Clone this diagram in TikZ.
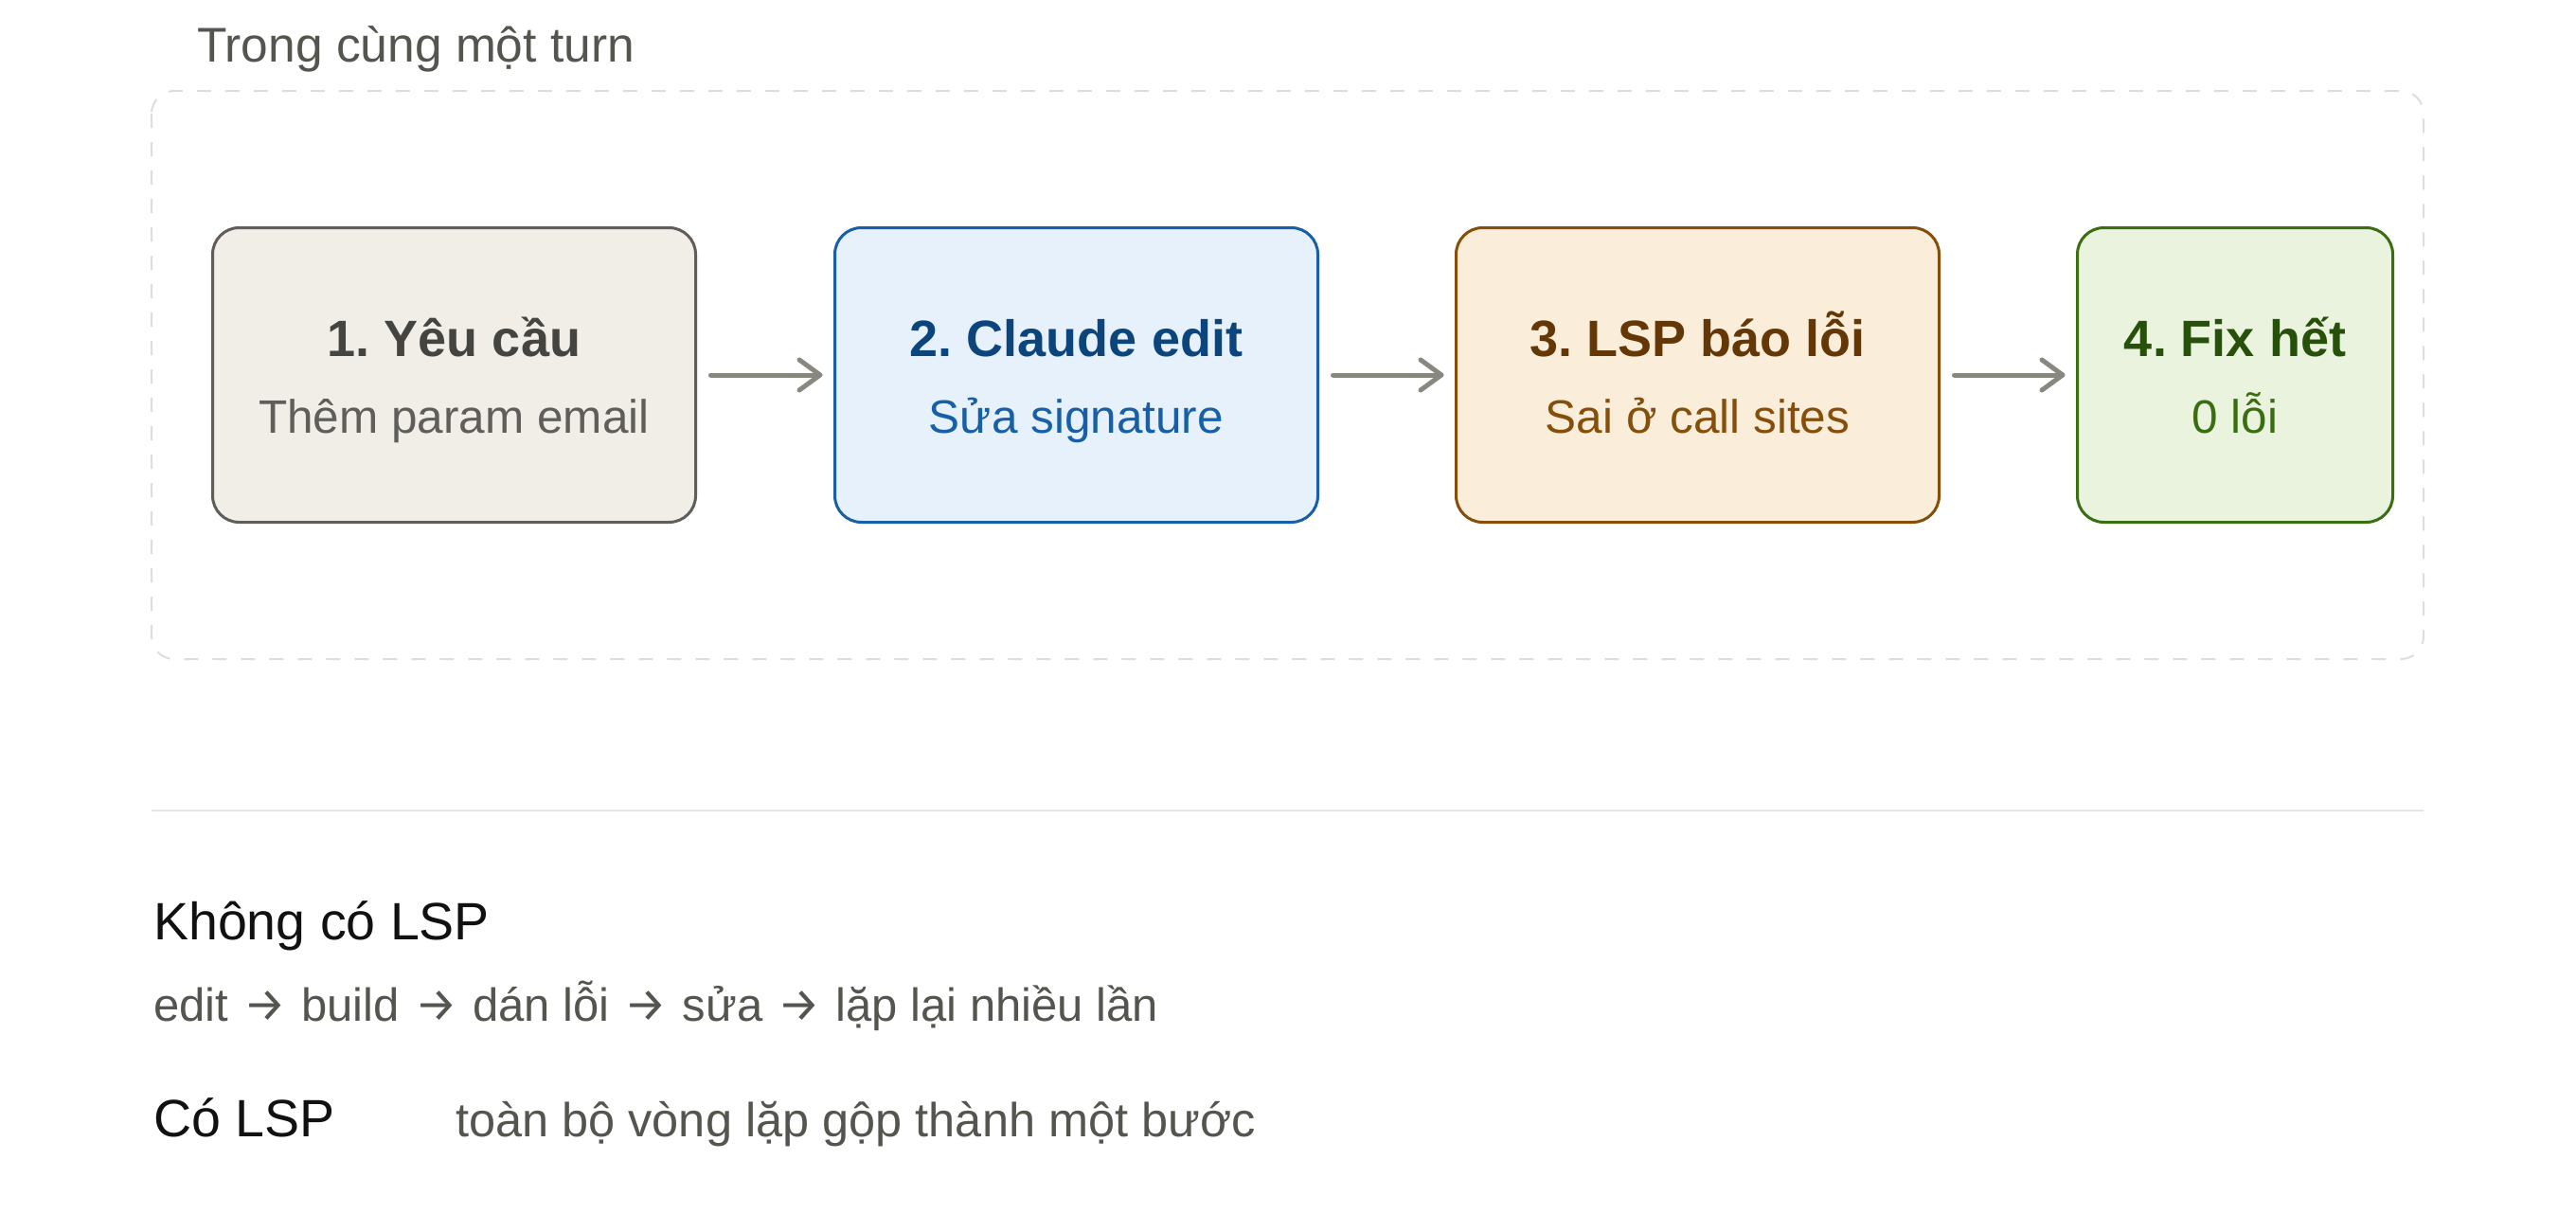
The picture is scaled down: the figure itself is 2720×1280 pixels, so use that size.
\documentclass[tikz,border=0pt]{standalone}
\usepackage{fontspec}
\setmainfont{Liberation Sans}
\newfontfamily\arrowfont{Fira Sans}
\usetikzlibrary{arrows.meta}
\definecolor{bgA}{HTML}{F1EEE8}\definecolor{lnA}{HTML}{5F5E5A}\definecolor{ttA}{HTML}{444441}\definecolor{sbA}{HTML}{5F5E5A}
\definecolor{bgB}{HTML}{E6F1FB}\definecolor{lnB}{HTML}{185FA5}\definecolor{ttB}{HTML}{0C447C}\definecolor{sbB}{HTML}{185FA5}
\definecolor{bgC}{HTML}{FAEEDA}\definecolor{lnC}{HTML}{854F0B}\definecolor{ttC}{HTML}{633806}\definecolor{sbC}{HTML}{854F0B}
\definecolor{bgD}{HTML}{EAF3DE}\definecolor{lnD}{HTML}{3B6D11}\definecolor{ttD}{HTML}{27500A}\definecolor{sbD}{HTML}{3B6D11}
\definecolor{arrowgray}{HTML}{888780}
\definecolor{dashgray}{HTML}{DDDDDA}
\definecolor{sepgray}{HTML}{E6E6E4}
\definecolor{bodygray}{HTML}{55554F}
\definecolor{headblack}{HTML}{111111}
\newcommand\txtarrow{\hspace{2.5pt}{\arrowfont\fontsize{50}{50}\selectfont →}\hspace{2.5pt}}
\frenchspacing
\begin{document}
\begin{tikzpicture}[x=1pt,y=-1pt,
  box/.style={draw, line width=3pt, rounded corners=28pt, minimum height=311pt, inner sep=0pt, outer sep=0pt},
  ttl/.style={anchor=base, inner sep=0pt, font=\fontsize{54}{60}\selectfont\bfseries\frenchspacing},
  sub/.style={anchor=base, inner sep=0pt, font=\fontsize{49.5}{56}\selectfont},
  flow/.style={draw=arrowgray, line width=5pt, line cap=round, -{Straight Barb[length=22pt,width=32pt,round]}},
  lbl/.style={anchor=base west, inner sep=0pt, text=bodygray, font=\fontsize{51.5}{58}\selectfont},
  head/.style={anchor=base west, inner sep=0pt, text=headblack, font=\fontsize{55.5}{62}\selectfont},
  body/.style={anchor=base west, inner sep=0pt, text=bodygray, font=\fontsize{49}{56}\selectfont},
  body2/.style={anchor=base west, inner sep=0pt, text=bodygray, font=\fontsize{50.5}{56}\selectfont},
]
\useasboundingbox[fill=white] (0,0) rectangle (2720,1280);

% title above group
\node[lbl] (grouplabel) at (208,65) {Trong cùng một turn};

% dashed group frame
\draw[draw=dashgray, line width=2pt, dash pattern=on 15pt off 15pt, rounded corners=24pt] (160,96) rectangle (2559,696);

% boxes
\node[box, fill=bgA, draw=lnA, minimum width=510pt] (b1) at (479.5,396) {};
\node[box, fill=bgB, draw=lnB, minimum width=510pt] (b2) at (1136.5,396) {};
\node[box, fill=bgC, draw=lnC, minimum width=510pt] (b3) at (1792.5,396) {};
\node[box, fill=bgD, draw=lnD, minimum width=333pt] (b4) at (2360,396) {};

\node[ttl, text=ttA] (t1) at ([yshift=20pt]b1.center) {1. Yêu cầu};
\node[sub, text=sbA] (s1) at ([yshift=-61pt]b1.center) {Thêm param email};
\node[ttl, text=ttB] (t2) at ([yshift=20pt]b2.center) {2. Claude edit};
\node[sub, text=sbB] (s2) at ([yshift=-61pt]b2.center) {Sửa signature};
\node[ttl, text=ttC] (t3) at ([yshift=20pt]b3.center) {3. LSP báo lỗi};
\node[sub, text=sbC] (s3) at ([yshift=-61pt]b3.center) {Sai ở call sites};
\node[ttl, text=ttD] (t4) at ([yshift=20pt]b4.center) {4. Fix hết};
\node[sub, text=sbD] (s4) at ([yshift=-61pt]b4.center) {0 lỗi};

% connectors
\draw[flow] ([xshift=16pt]b1.east) -- ([xshift=-13pt]b2.west);
\draw[flow] ([xshift=16pt]b2.east) -- ([xshift=-13pt]b3.west);
\draw[flow] ([xshift=16pt]b3.east) -- ([xshift=-13pt]b4.west);

% separator
\draw[draw=sepgray, line width=2pt] (160,856) -- (2559,856);

% bottom text
\node[head] (h1) at (162,992) {Không có LSP};
\node[body] (p1) at (162,1078) {edit \txtarrow{} build \txtarrow{} dán lỗi \txtarrow{} sửa \txtarrow{} lặp lại nhiều lần};
\node[head] (h2) at (162,1200) {Có LSP};
\node[body2] (p2) at (481,1200) {toàn bộ vòng lặp gộp thành một bước};
\end{tikzpicture}
\end{document}
